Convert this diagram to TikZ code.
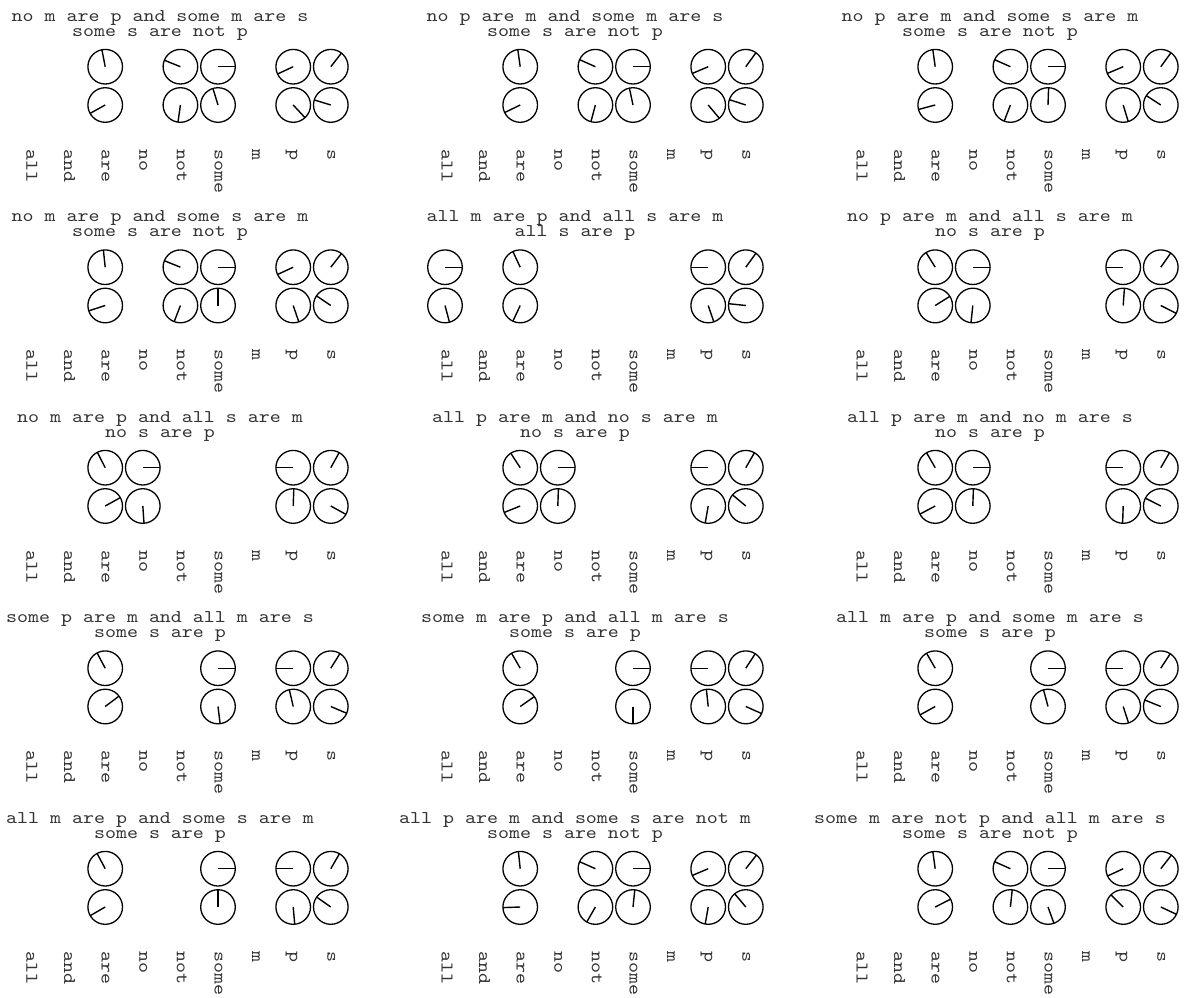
\documentclass[tikz,border=0pt]{standalone}
\usepackage{fontspec}
\newfontfamily\monof[FakeStretch=1.17]{lmmono10-regular.otf}
\tikzset{
  clk/.style={circle, draw=black, line width=1.3pt, minimum size=34.6pt, inner sep=0pt},
  hand/.style={line width=1.4pt, line cap=butt},
  ttl/.style={font=\monof\fontsize{17.9pt}{17.9pt}\selectfont, inner sep=0pt, anchor=base, text=black!80},
  ticklbl/.style={font=\monof\fontsize{17.9pt}{17.9pt}\selectfont, rotate=-90, anchor=base west, inner sep=0pt, text=black!80},
}
% #1 col, #2 row, #3 title line 1, #4 title line 2, #5 list k/r/angle
\newcommand\syllpanel[5]{%
  \node[ttl] (h-#1-#2-a) at ({160+415*#1},{21+200.5*#2}) {#3};
  \node[ttl] (h-#1-#2-b) at ({160+415*#1},{36+200.5*#2}) {#4};
  \foreach \w [count=\i from 0] in {all,and,are,no,not,some,m,p,s}{
    \node[ticklbl] (t-#1-#2-\i) at ({30+37.6*\i+415*#1-3.5},{149+200.5*#2}) {\w};
  }
  \foreach \k/\r/\a in {#5}{
    \pgfmathsetmacro\cx{30+37.6*\k+415*#1}
    \pgfmathsetmacro\cy{66.7+38.3*\r+200.5*#2}
    \node[clk] (c-#1-#2-\k-\r) at (\cx,\cy) {};
    \draw[hand] (c-#1-#2-\k-\r.center) -- ++({17.3*cos(\a)},{-17.3*sin(\a)});
  }
}
\begin{document}
\begin{tikzpicture}[x=1pt,y=-1pt]
\useasboundingbox (0,0) rectangle (1184,997);
\fill[white] (0,0) rectangle (1184,997);
\syllpanel{0}{0}{no m are p and some m are s}{some s are not p}
 {2/0/101,2/1/209,4/0/158,4/1/262,5/0/0,5/1/107,7/0/205,7/1/313,8/0/52,8/1/163}
\syllpanel{1}{0}{no p are m and some m are s}{some s are not p}
 {2/0/98,2/1/206,4/0/156,4/1/255,5/0/0,5/1/102,7/0/203,7/1/310,8/0/54,8/1/162}
\syllpanel{2}{0}{no p are m and some s are m}{some s are not p}
 {2/0/98,2/1/195,4/0/156,4/1/249,5/0/0,5/1/88,7/0/203,7/1/287,8/0/54,8/1/147}
\syllpanel{0}{1}{no m are p and some s are m}{some s are not p}
 {2/0/96,2/1/198,4/0/158,4/1/249,5/0/0,5/1/90,7/0/205,7/1/289,8/0/52,8/1/146}
\syllpanel{1}{1}{all m are p and all s are m}{all s are p}
 {0/0/0,0/1/285,2/0/115,2/1/245,7/0/180,7/1/289,8/0/54,8/1/174}
\syllpanel{2}{1}{no p are m and all s are m}{no s are p}
 {2/0/122,2/1/32,3/0/0,3/1/264,7/0/180,7/1/86,8/0/55,8/1/333}
\syllpanel{0}{2}{no m are p and all s are m}{no s are p}
 {2/0/117,2/1/29,3/0/0,3/1/274,7/0/180,7/1/88,8/0/61,8/1/331}
\syllpanel{1}{2}{all p are m and no s are m}{no s are p}
 {2/0/123,2/1/202,3/0/0,3/1/88,7/0/180,7/1/260,8/0/60,8/1/140}
\syllpanel{2}{2}{all p are m and no m are s}{no s are p}
 {2/0/120,2/1/208,3/0/0,3/1/88,7/0/180,7/1/268,8/0/60,8/1/153}
\syllpanel{0}{3}{some p are m and all m are s}{some s are p}
 {2/0/118,2/1/37,5/0/0,5/1/277,7/0/180,7/1/103,8/0/58,8/1/337}
\syllpanel{1}{3}{some m are p and all m are s}{some s are p}
 {2/0/120,2/1/35,5/0/0,5/1/270,7/0/180,7/1/96,8/0/57,8/1/336}
\syllpanel{2}{3}{all m are p and some m are s}{some s are p}
 {2/0/120,2/1/209,5/0/0,5/1/105,7/0/180,7/1/288,8/0/57,8/1/158}
\syllpanel{0}{4}{all m are p and some s are m}{some s are p}
 {2/0/118,2/1/210,5/0/0,5/1/90,7/0/180,7/1/275,8/0/60,8/1/145}
\syllpanel{1}{4}{all p are m and some s are not m}{some s are not p}
 {2/0/96,2/1/182,4/0/156,4/1/240,5/0/0,5/1/84,7/0/203,7/1/260,8/0/52,8/1/130}
\syllpanel{2}{4}{some m are not p and all m are s}{some s are not p}
 {2/0/98,2/1/27,4/0/156,4/1/84,5/0/0,5/1/290,7/0/205,7/1/135,8/0/52,8/1/335}
\end{tikzpicture}
\end{document}
